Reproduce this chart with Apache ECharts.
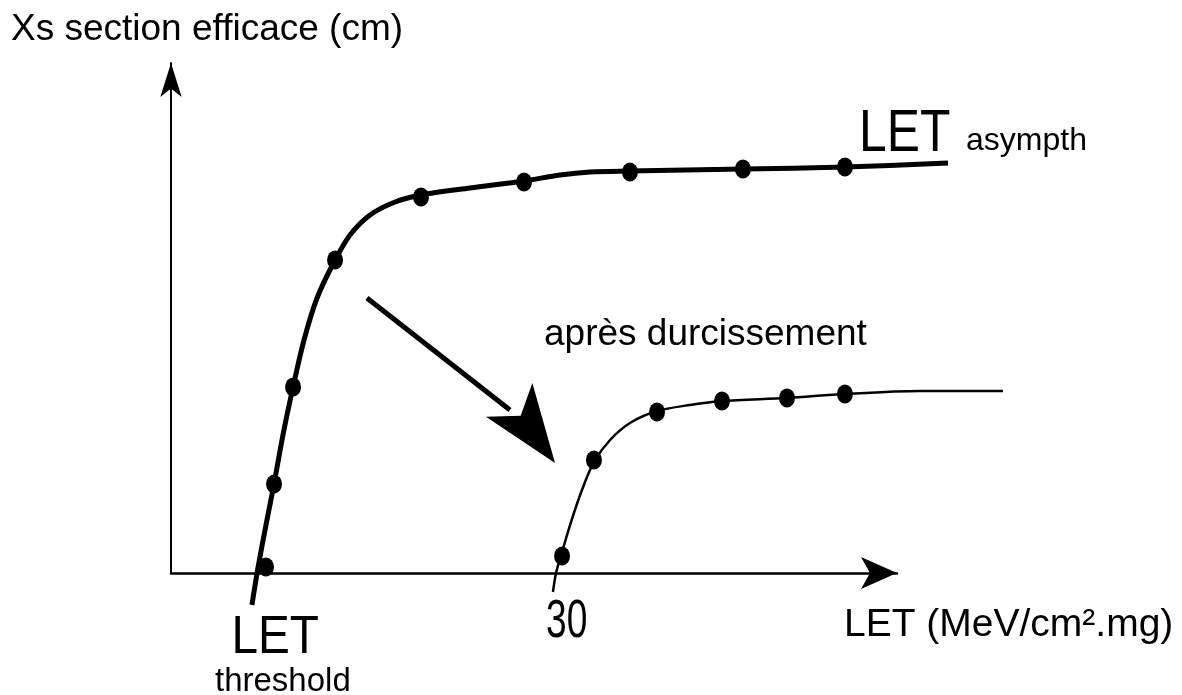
<!DOCTYPE html>
<html><head><meta charset="utf-8">
<script src="https://cdn.jsdelivr.net/npm/echarts@6/dist/echarts.min.js"></script>
<style>html,body{margin:0;padding:0;background:#fff}#c{width:1182px;height:695px}</style>
</head><body><div id="c"></div><script>
// Axis ranges (LET in MeV/cm².mg, cross-section in arbitrary units)
const xRange = [0, 56.87];      // drawn axis (ends with arrow)
const xDataRange = [0, 70];     // plotting extent (curves run past the axis arrow)
const yRange = [0, 103.45];

// Curve before hardening (traced path) and its measured points
const curveBefore = [[6.34,-6.49],[6.81,1.01],[7.44,9.74],[8.07,18.05],[8.77,27.99],[9.56,37.73],[10.42,47.26],[11.44,55.78],[12.77,63.08],[14.02,68.56],[15.59,72.62],[17.55,75.25],[19.58,76.67],[23.42,78.09],[27.65,79.51],[30.47,80.73],[32.82,81.34],[35.87,81.54],[44.80,81.95],[52.79,82.35],[60.86,83.16]];
const dotsBefore = [[7.44,1.22],[8.07,18.05],[9.56,37.73],[12.85,63.49],[19.58,76.27],[27.65,79.31],[35.95,81.34],[44.80,81.95],[52.79,82.35]];

// Curve after hardening (après durcissement)
const curveAfter = [[29.92,-3.85],[30.16,0],[30.63,4.26],[31.33,10.34],[32.19,16.84],[33.13,22.52],[34.39,26.98],[35.95,30.43],[38.07,32.86],[40.65,34.08],[43.16,34.89],[48.25,35.50],[52.79,36.31],[58.67,36.92],[65.17,36.92]];
const dotsAfter = [[30.63,3.45],[33.13,22.92],[38.07,32.66],[43.16,34.89],[48.25,35.50],[52.79,36.31]];

// Shift arrow (shaft and head tip)
const arrowShaft = [[15.35,55.78],[26.55,33.06]];
const arrowHead = [[30.08,22.31]];

const FONT = "'Liberation Sans', Arial, Helvetica, sans-serif";
function txt(text, x, y, size, sx) {
  return { type: 'text', x: x, y: y, scaleX: sx || 1, silent: true,
    style: { text: text, x: 0, y: 0, fontSize: size, fontFamily: FONT, fill: '#000',
      align: 'left', verticalAlign: 'middle' } };
}
const hiddenAxis = { type: 'value', show: false, splitLine: { show: false } };

const chart = echarts.init(document.getElementById('c'), null, {renderer: 'canvas'});
chart.setOption({
  animation: false,
  backgroundColor: '#fff',
  grid: [
    { left: 171, top: 63, right: 285, bottom: 122, containLabel: false, outerBoundsMode: 'none' },
    { left: 171, top: 63, right: 117.33, bottom: 122, containLabel: false, outerBoundsMode: 'none' }
  ],
  xAxis: [{
    type: 'value', gridIndex: 0, min: xRange[0], max: xRange[1],
    axisLine: { show: true, onZero: true, symbol: ['none', 'arrow'], symbolSize: [24, 36],
      lineStyle: { color: '#000', width: 2.5 } },
    axisTick: { show: false }, axisLabel: { show: false }, splitLine: { show: false }
  }, Object.assign({ gridIndex: 1, min: xDataRange[0], max: xDataRange[1] }, hiddenAxis)],
  yAxis: [{
    type: 'value', gridIndex: 0, min: yRange[0], max: yRange[1],
    axisLine: { show: true, onZero: true, symbol: ['none', 'arrow'], symbolSize: [16, 34],
      lineStyle: { color: '#000', width: 2 } },
    axisTick: { show: false }, axisLabel: { show: false }, splitLine: { show: false }
  }, Object.assign({ gridIndex: 1, min: yRange[0], max: yRange[1] }, hiddenAxis)],
  series: [
    { type: 'line', xAxisIndex: 1, yAxisIndex: 1, data: curveBefore, smooth: 0.3, showSymbol: false, clip: false, silent: true,
      lineStyle: { color: '#000', width: 5, cap: 'butt' }, z: 3 },
    { type: 'scatter', xAxisIndex: 1, yAxisIndex: 1, data: dotsBefore, symbol: 'circle', symbolSize: [16, 19], clip: false, silent: true,
      itemStyle: { color: '#000', opacity: 1 }, z: 4 },
    { type: 'line', xAxisIndex: 1, yAxisIndex: 1, data: curveAfter, smooth: 0.3, showSymbol: false, clip: false, silent: true,
      lineStyle: { color: '#000', width: 2.5, cap: 'butt' }, z: 3 },
    { type: 'scatter', xAxisIndex: 1, yAxisIndex: 1, data: dotsAfter, symbol: 'circle', symbolSize: [16, 19], clip: false, silent: true,
      itemStyle: { color: '#000', opacity: 1 }, z: 4 },
    { type: 'line', xAxisIndex: 1, yAxisIndex: 1, data: arrowShaft, showSymbol: false, clip: false, silent: true,
      lineStyle: { color: '#000', width: 5 }, z: 3 },
    { type: 'scatter', xAxisIndex: 1, yAxisIndex: 1, data: arrowHead, symbol: 'arrow', symbolSize: [43, 78], symbolRotate: -144,
      clip: false, silent: true, itemStyle: { color: '#000', opacity: 1 }, z: 4 }
  ],
  graphic: [
    txt('Xs section efficace (cm)', 11, 30, 37),
    txt('LET', 859, 134, 60, 0.83),
    txt('asympth', 966, 141, 32),
    txt('après durcissement', 544, 335, 37),
    txt('30', 546, 622, 53, 0.7),
    txt('LET (MeV/cm².mg)', 844, 625, 39),
    txt('LET', 231.5, 638, 53, 0.9),
    txt('threshold', 215, 682, 33)
  ]
});
</script></body></html>
